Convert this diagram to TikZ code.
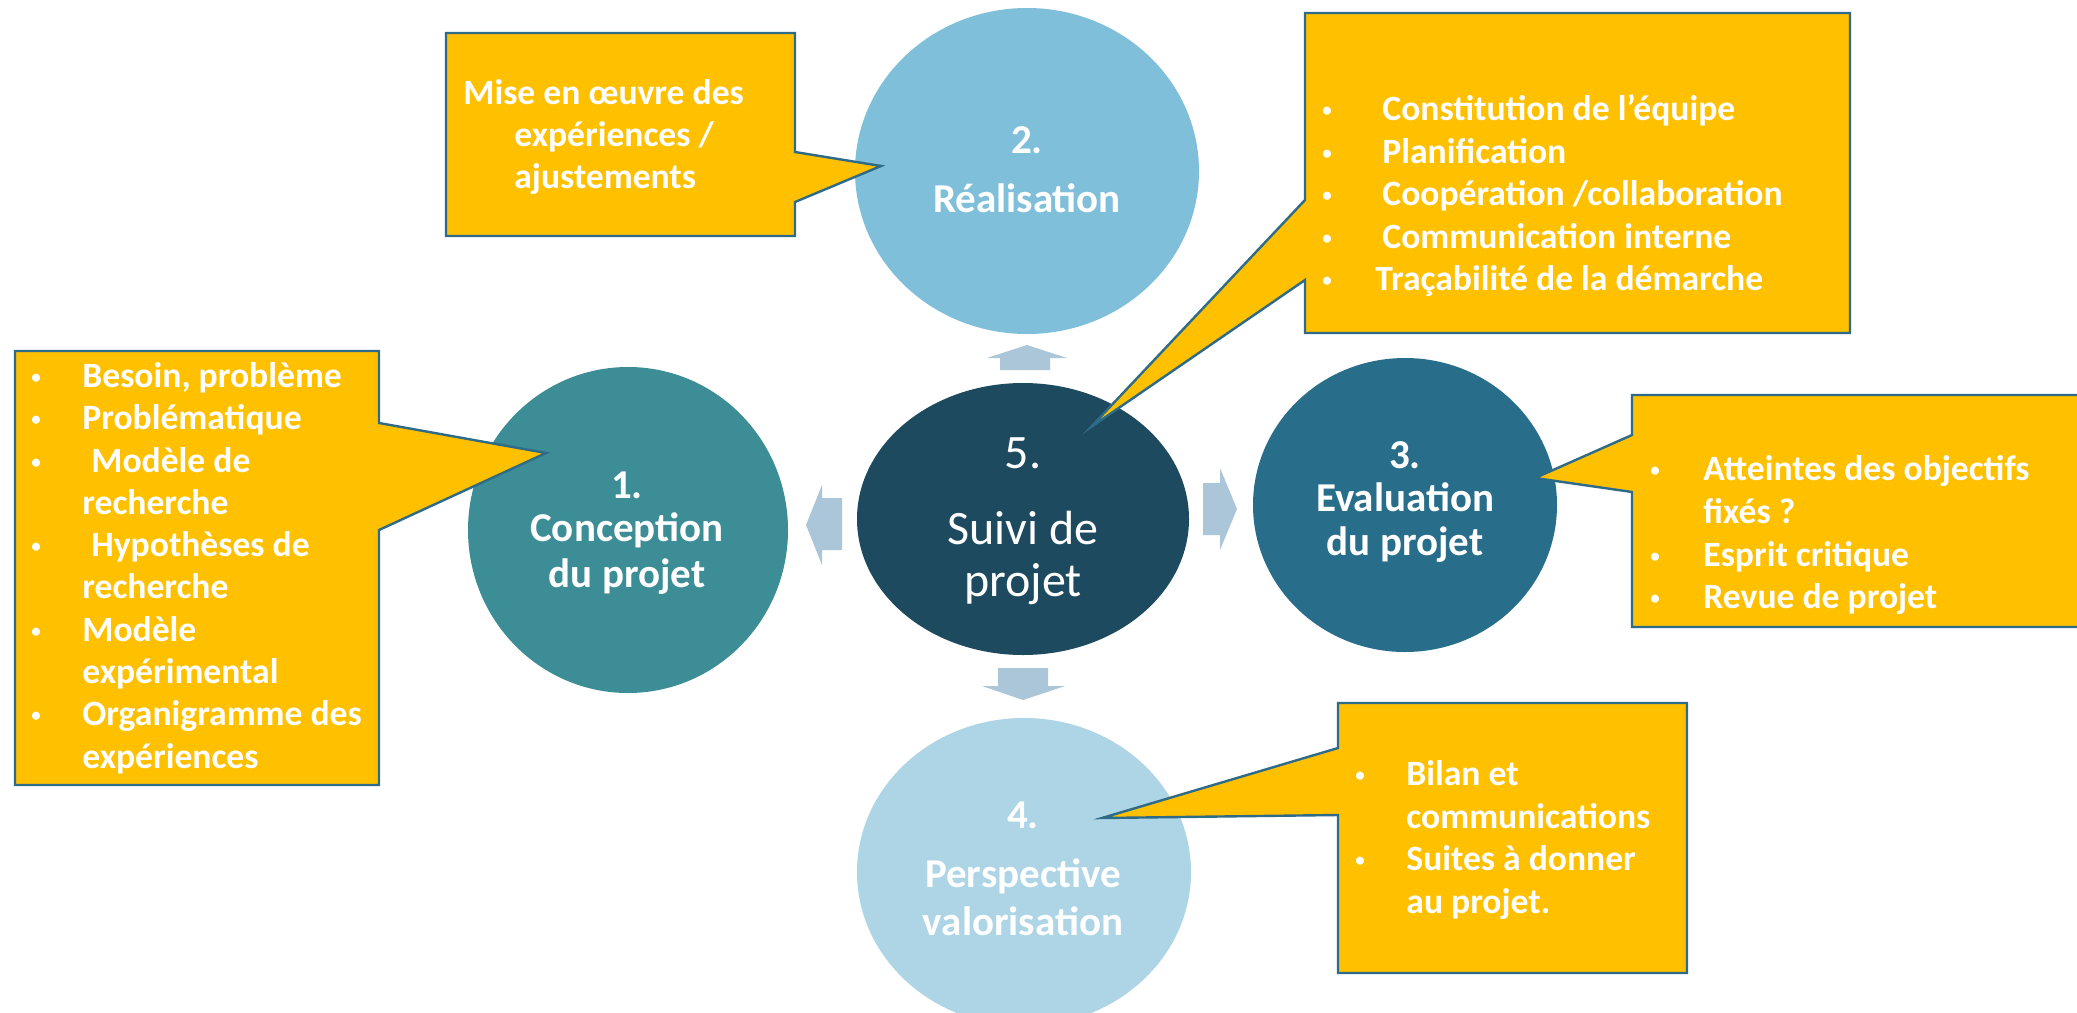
\documentclass[tikz,border=0pt]{standalone}
\usepackage{fontspec}
\setmainfont{Carlito}
\usetikzlibrary{shapes.geometric}
\definecolor{gold}{HTML}{FFC000}
\definecolor{callline}{HTML}{2E6B88}
\definecolor{cone}{HTML}{3C8D96}
\definecolor{ctwo}{HTML}{7FBFDA}
\definecolor{cthree}{HTML}{286E8A}
\definecolor{cfour}{HTML}{ADD5E6}
\definecolor{cfive}{HTML}{1D4A5E}
\definecolor{arr}{HTML}{ABC6D8}
\begin{document}
\begin{tikzpicture}[x=0.5pt,y=-0.5pt,
  blob/.style={ellipse, draw=none, inner sep=0pt},
  ctext/.style={text=white, font=\fontsize{20.5}{24}\selectfont\bfseries, anchor=base, inner sep=0pt},
  stext/.style={text=white, font=\fontsize{24}{28}\selectfont, anchor=base, inner sep=0pt},
  btext/.style={text=white, font=\fontsize{17.8}{21}\selectfont\bfseries, anchor=base west, inner sep=0pt},
  bul/.style={text=white, font=\fontsize{9.5}{12}\selectfont\bfseries, anchor=base, inner sep=0pt},
  callout/.style={fill=gold, draw=callline, line width=1.2pt, line join=miter},
  blockarrow/.style={fill=arr, draw=none}]
\useasboundingbox (0,0) rectangle (2077,1012);
\clip (0,0) rectangle (2077,1012);
\fill[white] (0,0) rectangle (2077,1012);

% circles
\node[blob, fill=cone,   minimum width=160pt, minimum height=163pt] (c1) at (628,530) {};
\node[blob, fill=ctwo,   minimum width=172pt, minimum height=163pt] (c2) at (1027,171) {};
\node[blob, fill=cthree, minimum width=152pt, minimum height=147pt] (c3) at (1405,505) {};
\node[blob, fill=cfour,  minimum width=167pt, minimum height=154pt] (c4) at (1024,872) {};
\node[blob, fill=cfive,  minimum width=166pt, minimum height=136pt] (c5) at (1023,519) {};

% block arrows
\fill[blockarrow] (1027,345) -- (1067,358) -- (1050,358) -- (1050,370) -- (1000,370) -- (1000,358) -- (987,358) -- cycle;
\fill[blockarrow] (806,525) -- (822,485) -- (822,498) -- (842,498) -- (842,550) -- (822,550) -- (822,565) -- cycle;
\fill[blockarrow] (1237,509) -- (1220,550) -- (1220,535) -- (1203,535) -- (1203,483) -- (1220,483) -- (1220,468) -- cycle;
\fill[blockarrow] (1023,700) -- (982,686) -- (998,686) -- (998,668) -- (1048,668) -- (1048,686) -- (1065,686) -- cycle;

% callout tips
\coordinate (pA) at (546,453);
\coordinate (pB) at (881,166);
\coordinate (pC) at (1091,427);
\coordinate (pD) at (1535,478);
\coordinate (pE) at (1102,818);

% callouts
\draw[callout] (15,351) -- (379,351) -- (379,423) -- (pA) -- (379,530) -- (379,785) -- (15,785) -- cycle;
\draw[callout] (446,33) -- (795,33) -- (795,152) -- (pB) -- (795,202) -- (795,236) -- (446,236) -- cycle;
\draw[callout] (1305,13) -- (1850,13) -- (1850,333) -- (1305,333) -- (1305,280) -- (pC) -- (1305,200) -- cycle;
\draw[callout] (1632,395) -- (2100,395) -- (2100,627) -- (1632,627) -- (1632,492) -- (pD) -- (1632,435) -- cycle;
\draw[callout] (1338,703) -- (1687,703) -- (1687,973) -- (1338,973) -- (1338,815) -- (pE) -- (1338,748) -- cycle;

% circle texts
\node[ctext] (t1a) at (627,498) {1.};
\node[ctext] (t1b) at (627,541) {Conception};
\node[ctext] (t1c) at (627,587) {du projet};
\node[ctext] (t2a) at (1027,153) {2.};
\node[ctext] (t2b) at (1027,212) {Réalisation};
\node[ctext] (t3a) at (1405,468) {3.};
\node[ctext] (t3b) at (1405,511) {Evaluation};
\node[ctext] (t3c) at (1405,555) {du projet};
\node[ctext] (t4a) at (1023,828) {4.};
\node[ctext] (t4b) at (1023,887) {Perspective};
\node[ctext] (t4c) at (1023,935) {valorisation};
\node[stext] (t5a) at (1023,468) {5.};
\node[stext] (t5b) at (1023,544) {Suivi de};
\node[stext] (t5c) at (1023,596) {projet};

% box A
\foreach \x/\y/\t [count=\i] in {82/387/{Besoin, problème}, 82/429/{Problématique}, 91/472/{Modèle de}, 82/514/{recherche}, 91/556/{Hypothèses de}, 82/598/{recherche}, 82/641/{Modèle}, 82/683/{expérimental}, 82/725/{Organigramme des}, 82/768/{expériences}}
  \node[btext] (a\i) at (\x,\y) {\t};
\foreach \y [count=\i] in {387,429,472,556,641,725}
  \node[bul] (ba\i) at (36,\y) {\raisebox{2pt}{•}};

% box B
\node[btext] (b1) at (463,104) {Mise en œuvre des};
\node[btext] (b2) at (514,146) {expériences /};
\node[btext] (b3) at (514,188) {ajustements};

% box C
\foreach \x/\y/\t [count=\i] in {1382/120/{Constitution de l’équipe}, 1382/163/{Planification}, 1382/205/{Coopération /collaboration}, 1382/248/{Communication interne}, 1375/290/{Traçabilité de la démarche}}
  \node[btext] (cc\i) at (\x,\y) {\t};
\foreach \y [count=\i] in {120,163,205,248,290}
  \node[bul] (bc\i) at (1327,\y) {\raisebox{2pt}{•}};

% box D
\foreach \y/\t [count=\i] in {480/{Atteintes des objectifs}, 523/{fixés ?}, 566/{Esprit critique}, 608/{Revue de projet}}
  \node[btext] (d\i) at (1703,\y) {\t};
\foreach \y [count=\i] in {480,566,608}
  \node[bul] (bd\i) at (1655,\y) {\raisebox{2pt}{•}};

% box E
\foreach \y/\t [count=\i] in {785/{Bilan et}, 828/{communications}, 870/{Suites à donner}, 913/{au projet.}}
  \node[btext] (e\i) at (1406,\y) {\t};
\foreach \y [count=\i] in {785,870}
  \node[bul] (be\i) at (1360,\y) {\raisebox{2pt}{•}};
\end{tikzpicture}
\end{document}
